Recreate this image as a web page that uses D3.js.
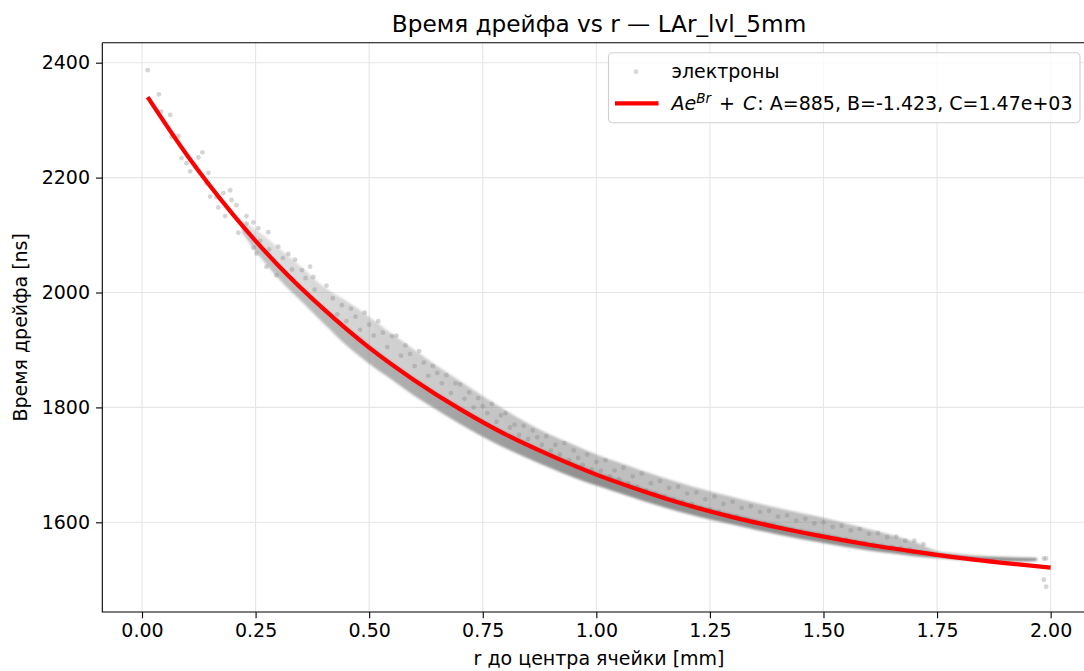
<!DOCTYPE html>
<html>
<head>
<meta charset="utf-8">
<script src="https://cdn.jsdelivr.net/npm/d3@7"></script>
<style>
  body { margin: 0; background: #fff; }
  svg text { font-family: "DejaVu Sans", sans-serif; fill: #000; }
  .tick-label { font-size: 19px; }
</style>
</head>
<body>
<div id="chart"></div>
<script>
// ---- data ----
// fitted curve (r in mm, drift time in ns)
const fitR = [0.0125, 0.1, 0.2, 0.3, 0.4, 0.5, 0.6, 0.7, 0.8, 0.9, 1.0, 1.1, 1.2, 1.3, 1.4, 1.5, 1.6, 1.7, 1.8, 1.9, 2.0];
const fitT = [2340, 2238, 2136, 2047, 1971, 1904, 1847, 1797, 1753, 1716, 1683, 1655, 1630, 1609, 1591, 1575, 1561, 1549, 1538, 1529, 1521];

// dense part of the scatter: lower edge, top of the dark core, top of the light fringe
const bandR    = [0.22, 0.25, 0.30, 0.35, 0.40, 0.45, 0.50, 0.55, 0.60, 0.65, 0.70, 0.75, 0.80, 0.85, 0.90, 0.95, 1.00, 1.05, 1.10, 1.15, 1.20, 1.25, 1.30, 1.35, 1.40, 1.45, 1.50, 1.55, 1.60, 1.65, 1.70, 1.75, 1.80, 1.85, 1.90, 1.95, 1.97];
const bandLow  = [2104, 2072, 2025, 1985, 1946, 1908, 1876, 1848, 1820, 1795, 1771, 1749, 1729, 1711, 1694, 1678, 1664, 1651, 1638, 1626, 1615, 1605, 1596, 1587, 1579, 1571, 1564, 1557, 1551, 1546, 1541, 1538, 1535, 1533, 1532, 1532, 1533];
const bandCore = [2118, 2095, 2052, 2012, 1976, 1942, 1910, 1880, 1852, 1826, 1802, 1779, 1758, 1739, 1721, 1704, 1688, 1674, 1660, 1647, 1635, 1624, 1614, 1605, 1596, 1587, 1580, 1572, 1565, 1558, 1552, 1546, 1542, 1540, 1539, 1538, 1538];
const bandTop  = [2125, 2110, 2078, 2045, 2010, 1985, 1958, 1928, 1900, 1872, 1846, 1820, 1795, 1772, 1752, 1735, 1718, 1704, 1690, 1677, 1665, 1654, 1644, 1634, 1625, 1616, 1608, 1598, 1588, 1578, 1566, 1550, 1545, 1542, 1540, 1539, 1538];

// single electrons that stand apart from the band
const dotR = [0.0125, 0.037, 0.042, 0.062, 0.065, 0.080, 0.087, 0.098, 0.106, 0.124, 0.133, 0.142, 0.146, 0.150, 0.164, 0.168, 0.179, 0.183, 0.194, 0.197, 0.208, 0.212, 0.230, 0.245, 0.245, 0.252, 0.256, 0.274, 0.278, 0.296, 0.300, 0.322, 0.337, 0.352, 0.370, 0.377, 0.406,
  0.42, 0.44, 0.46, 0.47, 0.49, 0.50, 0.52, 0.53, 0.55, 0.56, 0.58, 0.59, 0.61, 0.62, 0.64, 0.65, 0.67, 0.69, 0.70, 0.72, 0.74, 0.75, 0.77, 0.79, 0.80, 0.82, 0.84, 0.86, 0.87, 0.89, 0.91, 0.93, 0.95, 0.96, 0.98, 1.00, 1.02, 1.04, 1.06, 1.08, 1.10, 1.12, 1.14, 1.16, 1.18, 1.20, 1.22, 1.24, 1.26, 1.28, 1.30, 1.32, 1.34, 1.36, 1.38, 1.40, 1.42, 1.44, 1.46, 1.48, 1.50, 1.52, 1.54, 1.56, 1.58, 1.60, 1.62, 1.64, 1.66, 1.68, 1.70, 1.72,
  0.43, 0.45, 0.48, 0.51, 0.54, 0.57, 0.60, 0.63, 0.66, 0.68, 0.71, 0.73, 0.76, 0.78, 0.81, 0.83, 0.85, 0.88, 0.90, 0.92, 0.94, 0.97, 0.99, 1.01, 1.03, 1.05, 1.07, 1.09, 1.11, 1.13, 1.15, 1.17, 1.19, 1.21, 1.23, 1.25, 1.27, 1.29, 1.31, 1.33, 1.35, 1.37, 1.39, 1.41, 1.43, 1.45, 1.47, 1.49, 1.51, 1.53, 1.55, 1.57, 1.59, 1.61, 1.63, 1.65, 1.67, 1.69,
  0.23, 0.26, 0.28, 0.31, 0.33, 0.36, 0.38,
  1.985, 1.99, 1.985, 1.99];
const dotT = [2387, 2345, 2315, 2309, 2271, 2272, 2234, 2225, 2211, 2235, 2244, 2190, 2208, 2167, 2166, 2148, 2173, 2133, 2178, 2161, 2152, 2104, 2133, 2122, 2078, 2068, 2112, 2045, 2105, 2030, 2080, 2067, 2057, 2039, 2045, 2027, 2012,
  1990, 1978, 1972, 1958, 1965, 1944, 1950, 1930, 1924, 1925, 1908, 1893, 1898, 1878, 1872, 1860, 1856, 1842, 1840, 1826, 1816, 1802, 1806, 1786, 1790, 1770, 1768, 1760, 1748, 1750, 1735, 1738, 1725, 1712, 1718, 1705, 1708, 1690, 1695, 1680, 1685, 1668, 1672, 1660, 1662, 1650, 1652, 1640, 1645, 1632, 1636, 1625, 1628, 1618, 1620, 1610, 1612, 1603, 1606, 1598, 1600, 1592, 1594, 1586, 1588, 1580, 1581, 1574, 1575, 1568, 1568, 1562,
  1962, 1950, 1935, 1925, 1905, 1890, 1872, 1855, 1842, 1825, 1815, 1800, 1790, 1775, 1765, 1752, 1745, 1735, 1725, 1718, 1708, 1700, 1692, 1690, 1680, 1675, 1668, 1662, 1655, 1650, 1645, 1640, 1635, 1632, 1625, 1622, 1618, 1612, 1610, 1605, 1600, 1598, 1594, 1590, 1587, 1584, 1580, 1578, 1575, 1572, 1570, 1566, 1564, 1562, 1559, 1557, 1555, 1553,
  2120, 2090, 2075, 2060, 2040, 2025, 2005,
  1537, 1537, 1500, 1488];

const xTicks = [0, 0.25, 0.5, 0.75, 1.0, 1.25, 1.5, 1.75, 2.0];
const yTicks = [1600, 1800, 2000, 2200, 2400];

class DriftChart {
  constructor(props) {
    this.container = props.container;
    this.svgWidth = props.svgWidth;
    this.svgHeight = props.svgHeight;
    this.init();
  }

  init() {
    // plot box in pixels, right spine is cut off by the picture edge
    this.box = { left: 102.3, right: 1095.8, top: 42.7, bottom: 612 };
    this.x = d3.scaleLinear().domain([-0.0874, 2.0994]).range([this.box.left, this.box.right]);
    this.y = d3.scaleLinear().domain([1443.9, 2434.8]).range([this.box.bottom, this.box.top]);
    this.render();
  }

  addFade(defs, id, r0, r1, o0, o1) {
    const g = defs.append("linearGradient").attr("id", id)
      .attr("gradientUnits", "userSpaceOnUse")
      .attr("x1", this.x(r0)).attr("x2", this.x(r1)).attr("y1", 0).attr("y2", 0);
    g.append("stop").attr("offset", 0).attr("stop-color", "#808080").attr("stop-opacity", o0);
    g.append("stop").attr("offset", 1).attr("stop-color", "#808080").attr("stop-opacity", o1);
  }

  render() {
    const { x, y, box } = this;
    const svg = d3.select(this.container).append("svg")
      .attr("width", this.svgWidth)
      .attr("height", this.svgHeight);

    const defs = svg.append("defs");
    defs.append("clipPath").attr("id", "plot-clip")
      .append("rect")
      .attr("x", box.left).attr("y", box.top)
      .attr("width", box.right - box.left).attr("height", box.bottom - box.top);
    defs.append("filter").attr("id", "soft")
      .attr("x", "-5%").attr("y", "-5%").attr("width", "110%").attr("height", "110%")
      .append("feGaussianBlur").attr("stdDeviation", 1.3);
    // the band gets denser as r grows
    this.addFade(defs, "fade-core", 0.22, 1.0, 0.45, 0.88);
    this.addFade(defs, "fade-halo", 0.22, 0.9, 0.24, 0.5);

    // grid
    const grid = svg.append("g").attr("clip-path", "url(#plot-clip)");
    grid.selectAll(".gx").data(xTicks).join("line")
      .attr("x1", (d) => x(d)).attr("x2", (d) => x(d))
      .attr("y1", box.top).attr("y2", box.bottom)
      .attr("stroke", "#e6e6e6").attr("stroke-width", 1.1);
    grid.selectAll(".gy").data(yTicks).join("line")
      .attr("x1", box.left).attr("x2", box.right)
      .attr("y1", (d) => y(d)).attr("y2", (d) => y(d))
      .attr("stroke", "#e6e6e6").attr("stroke-width", 1.1);

    const plot = svg.append("g").attr("clip-path", "url(#plot-clip)");

    // scatter band
    const band = bandR.map((r, i) => ({ r, low: bandLow[i], core: bandCore[i], top: bandTop[i] }));
    const bandG = plot.append("g").attr("filter", "url(#soft)");
    bandG.append("path")
      .datum(band)
      .attr("d", d3.area().curve(d3.curveMonotoneX)
        .x((d) => x(d.r)).y0((d) => y(d.core)).y1((d) => y(d.top)))
      .attr("fill", "url(#fade-halo)");
    bandG.append("path")
      .datum(band)
      .attr("d", d3.area().curve(d3.curveMonotoneX)
        .x((d) => x(d.r)).y0((d) => y(d.low)).y1((d) => y(d.core)))
      .attr("fill", "url(#fade-core)");

    // single points
    const dots = dotR.map((r, i) => ({ r, t: dotT[i] }));
    plot.append("g").selectAll("circle").data(dots).join("circle")
      .attr("cx", (d) => x(d.r)).attr("cy", (d) => y(d.t))
      .attr("r", 2.4)
      .attr("fill", "#808080").attr("fill-opacity", 0.33);

    // fit line
    const fit = fitR.map((r, i) => ({ r, t: fitT[i] }));
    plot.append("path")
      .datum(fit)
      .attr("d", d3.line().curve(d3.curveMonotoneX).x((d) => x(d.r)).y((d) => y(d.t)))
      .attr("fill", "none").attr("stroke", "#ff0000").attr("stroke-width", 4.2)
      .attr("stroke-linecap", "butt");

    // axes
    const xAxis = svg.append("g")
      .attr("transform", `translate(0,${box.bottom})`)
      .call(d3.axisBottom(x).tickValues(xTicks).tickFormat(d3.format(".2f")).tickSize(6.3).tickPadding(5));
    const yAxis = svg.append("g")
      .attr("transform", `translate(${box.left},0)`)
      .call(d3.axisLeft(y).tickValues(yTicks).tickFormat(d3.format("d")).tickSize(6.3).tickPadding(6));
    [xAxis, yAxis].forEach((a) => {
      a.select(".domain").remove();
      a.selectAll(".tick line").attr("stroke", "#000").attr("stroke-width", 1.1);
      a.selectAll(".tick text").attr("class", "tick-label").attr("fill", "#000")
        .style("font-family", "DejaVu Sans");
    });

    // spines
    svg.append("path")
      .attr("d", `M${box.left},${box.top}L${box.right},${box.top}M${box.left},${box.top}L${box.left},${box.bottom}L${box.right},${box.bottom}`)
      .attr("fill", "none").attr("stroke", "#000").attr("stroke-width", 1.1);

    // title + labels
    svg.append("text")
      .attr("x", (box.left + box.right) / 2).attr("y", 32)
      .attr("text-anchor", "middle").style("font-size", "23.2px")
      .text("Время дрейфа vs r — LAr_lvl_5mm");
    svg.append("text")
      .attr("x", (box.left + box.right) / 2).attr("y", 665)
      .attr("text-anchor", "middle").style("font-size", "19px")
      .text("r до центра ячейки [mm]");
    svg.append("text")
      .attr("transform", `translate(27,${(box.top + box.bottom) / 2}) rotate(-90)`)
      .attr("text-anchor", "middle").style("font-size", "19px")
      .text("Время дрейфа [ns]");

    this.renderLegend(svg);
  }

  renderLegend(svg) {
    const lg = svg.append("g").attr("class", "legend");
    lg.append("rect")
      .attr("x", 608.5).attr("y", 52.7).attr("width", 471.5).attr("height", 70)
      .attr("rx", 4).attr("fill", "#fff").attr("fill-opacity", 0.8)
      .attr("stroke", "#d0d0d0").attr("stroke-width", 1.1);

    lg.append("circle").attr("cx", 636).attr("cy", 71.7).attr("r", 2.4)
      .attr("fill", "#808080").attr("fill-opacity", 0.3);
    lg.append("text").attr("x", 671.5).attr("y", 78).style("font-size", "19px")
      .text("электроны");

    lg.append("line").attr("x1", 615).attr("x2", 658.5).attr("y1", 103.3).attr("y2", 103.3)
      .attr("stroke", "#ff0000").attr("stroke-width", 4.2);
    const t = lg.append("text").attr("x", 671.5).attr("y", 110).style("font-size", "19px");
    t.append("tspan").style("font-style", "italic").text("Ae");
    t.append("tspan").style("font-style", "italic").style("font-size", "13.5px").attr("dy", -7.5).text("Br");
    t.append("tspan").attr("dy", 7.5).attr("dx", 2).text(" + ");
    t.append("tspan").style("font-style", "italic").attr("dx", 2).text("C");
    t.append("tspan").attr("dx", 1).text(": A=885, B=-1.423, C=1.47e+03");
  }
}

new DriftChart({ container: "#chart", svgWidth: 1084, svgHeight: 671 });
</script>
</body>
</html>
